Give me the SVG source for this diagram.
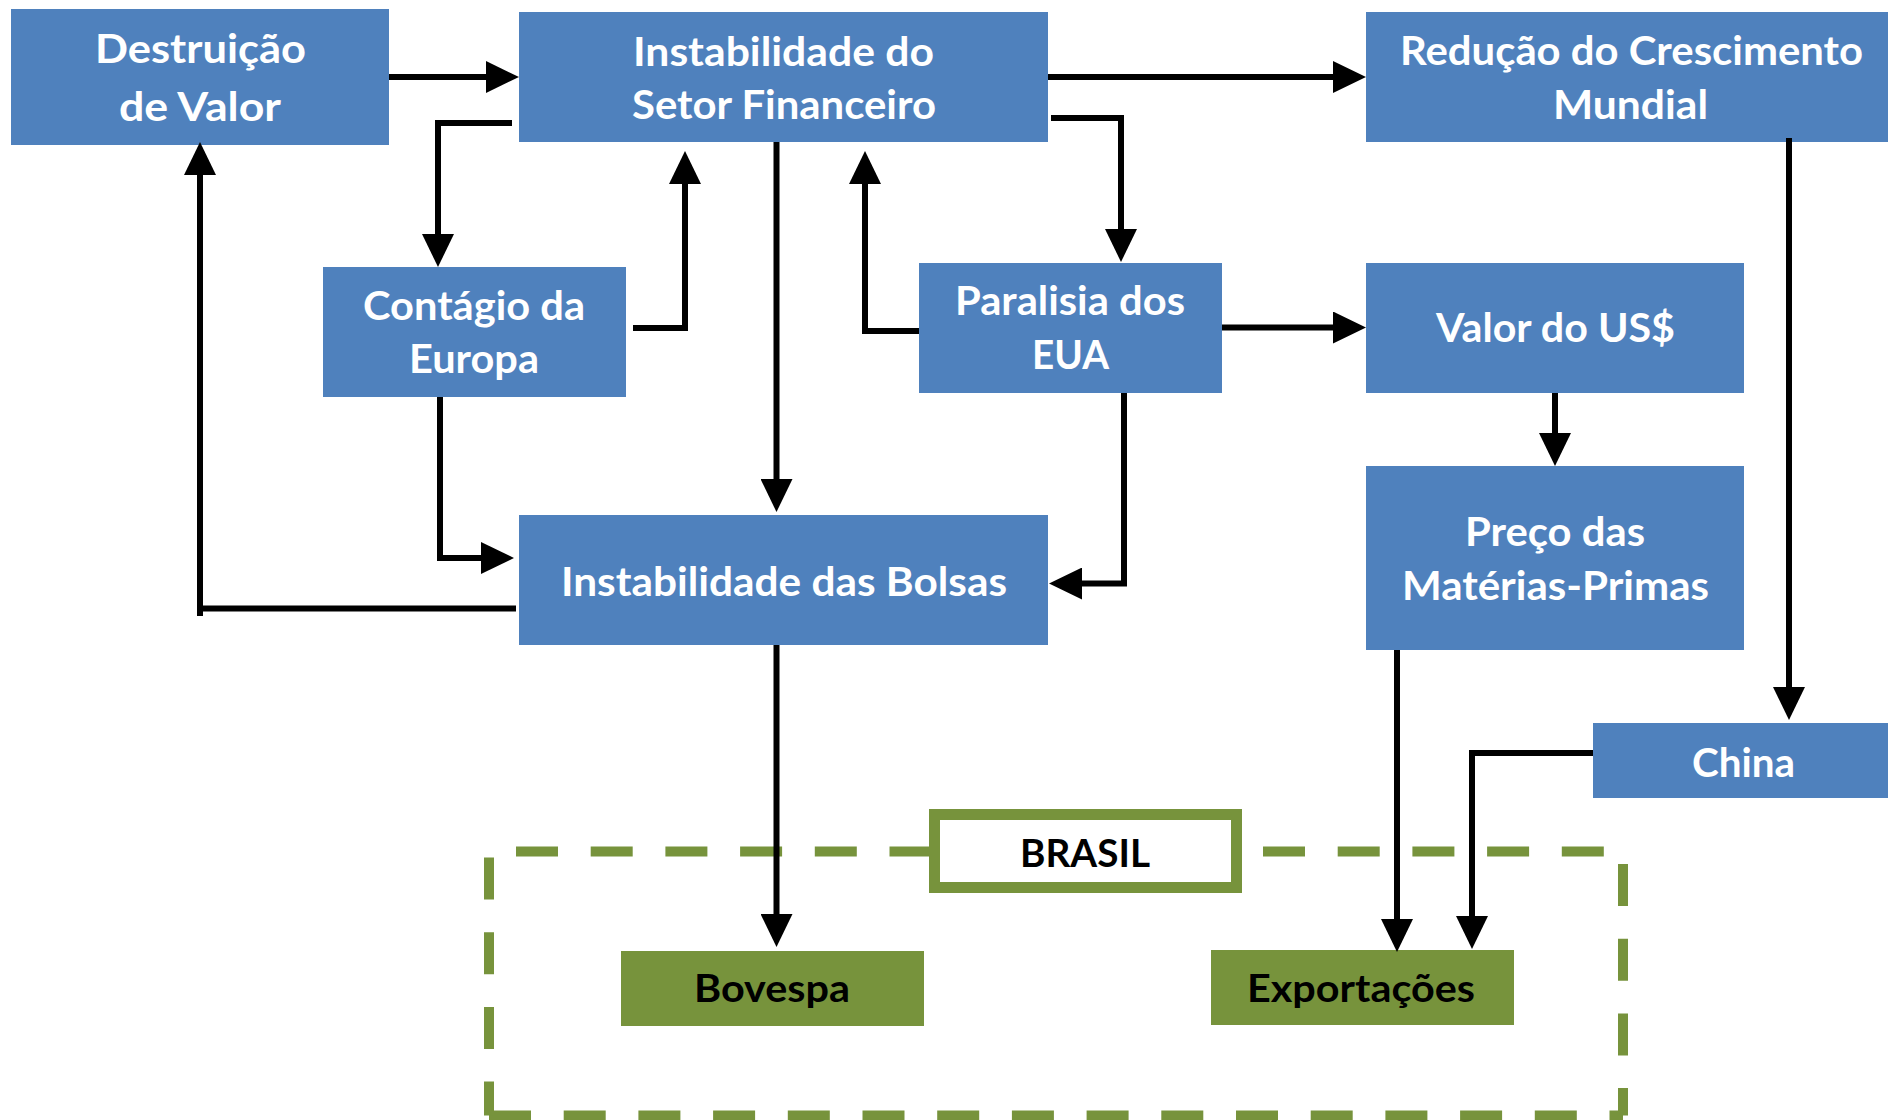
<svg xmlns="http://www.w3.org/2000/svg" width="1888" height="1120" viewBox="0 0 1888 1120">
<style>
.n{fill:#4F81BD}
.g{fill:#77933C}
.t{font-family:Lato,"Open Sans","Liberation Sans",sans-serif;font-weight:700;font-size:40px;text-anchor:middle;fill:#FFFFFF}
.k{fill:#000000;font-size:38px}
.c{fill:none;stroke:#000;stroke-width:6;stroke-linejoin:miter}
.d{fill:none;stroke:#77933C;stroke-width:10;stroke-dasharray:42 32.7}
</style>
<defs>
<marker id="ah" markerUnits="userSpaceOnUse" markerWidth="33" markerHeight="32" viewBox="0 0 33 32" refX="23" refY="16" orient="auto">
<path d="M0,0 L33,16 L0,32 z" fill="#000"/>
</marker>
</defs>

<g id="brasil-container">
<line class="d" x1="489" y1="851.5" x2="1623" y2="851.5" stroke-dashoffset="47.7"/>
<line class="d" x1="1623" y1="851.5" x2="1623" y2="1115.5" stroke-dashoffset="62.2"/>
<line class="d" x1="489" y1="1115.5" x2="1623" y2="1115.5" stroke-dashoffset="0"/>
<line class="d" x1="489" y1="851.5" x2="489" y2="1115.5" stroke-dashoffset="68.7"/>
</g>

<g id="brasil-label">
<rect x="934.5" y="814.5" width="302" height="73" fill="#FFFFFF" stroke="#77933C" stroke-width="11"/>
<text class="t k" x="1085" y="867" textLength="130" lengthAdjust="spacingAndGlyphs">BRASIL</text>
</g>

<g id="destruicao">
<rect class="n" x="11" y="9" width="378" height="136"/>
<text class="t" x="200.5" y="63" textLength="211" lengthAdjust="spacingAndGlyphs">Destruição</text>
<text class="t" x="200" y="121" textLength="162" lengthAdjust="spacingAndGlyphs">de Valor</text>
</g>

<g id="instab-financeiro">
<rect class="n" x="519" y="12" width="529" height="130"/>
<text class="t" x="783.5" y="66" textLength="301" lengthAdjust="spacingAndGlyphs">Instabilidade do</text>
<text class="t" x="784" y="119" textLength="304" lengthAdjust="spacingAndGlyphs">Setor Financeiro</text>
</g>

<g id="reducao">
<rect class="n" x="1366" y="12" width="530" height="130"/>
<text class="t" x="1631.5" y="65" textLength="463" lengthAdjust="spacingAndGlyphs">Redução do Crescimento</text>
<text class="t" x="1630.5" y="119" textLength="155" lengthAdjust="spacingAndGlyphs">Mundial</text>
</g>

<g id="contagio">
<rect class="n" x="323" y="267" width="303" height="130"/>
<text class="t" x="474" y="320" textLength="222" lengthAdjust="spacingAndGlyphs">Contágio da</text>
<text class="t" x="474" y="373" textLength="130" lengthAdjust="spacingAndGlyphs">Europa</text>
</g>

<g id="paralisia">
<rect class="n" x="919" y="263" width="303" height="130"/>
<text class="t" x="1070" y="315" textLength="230" lengthAdjust="spacingAndGlyphs">Paralisia dos</text>
<text class="t" x="1070.5" y="369" textLength="77" lengthAdjust="spacingAndGlyphs">EUA</text>
</g>

<g id="valor-usd">
<rect class="n" x="1366" y="263" width="378" height="130"/>
<text class="t" x="1555.5" y="342" textLength="239" lengthAdjust="spacingAndGlyphs">Valor do US$</text>
</g>

<g id="instab-bolsas">
<rect class="n" x="519" y="515" width="529" height="130"/>
<text class="t" x="784" y="596" textLength="446" lengthAdjust="spacingAndGlyphs">Instabilidade das Bolsas</text>
</g>

<g id="preco">
<rect class="n" x="1366" y="466" width="378" height="184"/>
<text class="t" x="1555" y="546" textLength="180" lengthAdjust="spacingAndGlyphs">Preço das</text>
<text class="t" x="1555.5" y="600" textLength="307" lengthAdjust="spacingAndGlyphs">Matérias-Primas</text>
</g>

<g id="china">
<rect class="n" x="1593" y="723" width="300" height="75"/>
<text class="t" x="1743.5" y="777" textLength="103" lengthAdjust="spacingAndGlyphs">China</text>
</g>

<g id="bovespa">
<rect class="g" x="621" y="951" width="303" height="75"/>
<text class="t k" x="772" y="1002" textLength="156" lengthAdjust="spacingAndGlyphs">Bovespa</text>
</g>

<g id="exportacoes">
<rect class="g" x="1211" y="950" width="303" height="75"/>
<text class="t k" x="1361" y="1002" textLength="228" lengthAdjust="spacingAndGlyphs">Exportações</text>
</g>

<g id="connectors">
<path class="c" d="M389,77 H509" marker-end="url(#ah)"/>
<path class="c" d="M1048,77 H1356" marker-end="url(#ah)"/>
<path class="c" d="M512,123 H438 V257" marker-end="url(#ah)"/>
<path class="c" d="M633,328 H685 V161" marker-end="url(#ah)"/>
<path class="c" d="M919,331 H865 V161" marker-end="url(#ah)"/>
<path class="c" d="M1051,118 H1121 V252" marker-end="url(#ah)"/>
<path class="c" d="M776.5,142 V502" marker-end="url(#ah)"/>
<path class="c" d="M440,397 V558 H504" marker-end="url(#ah)"/>
<path class="c" d="M516,608.5 H197 M200,616 V152" marker-end="url(#ah)"/>
<path class="c" d="M1124,393 V583.5 H1059" marker-end="url(#ah)"/>
<path class="c" d="M1222,327.5 H1356" marker-end="url(#ah)"/>
<path class="c" d="M1555,393 V456" marker-end="url(#ah)"/>
<path class="c" d="M1789,138 V710" marker-end="url(#ah)"/>
<path class="c" d="M1397,650 V942" marker-end="url(#ah)"/>
<path class="c" d="M1593,753 H1472 V939" marker-end="url(#ah)"/>
<path class="c" d="M776.5,645 V937" marker-end="url(#ah)"/>
</g>
</svg>
